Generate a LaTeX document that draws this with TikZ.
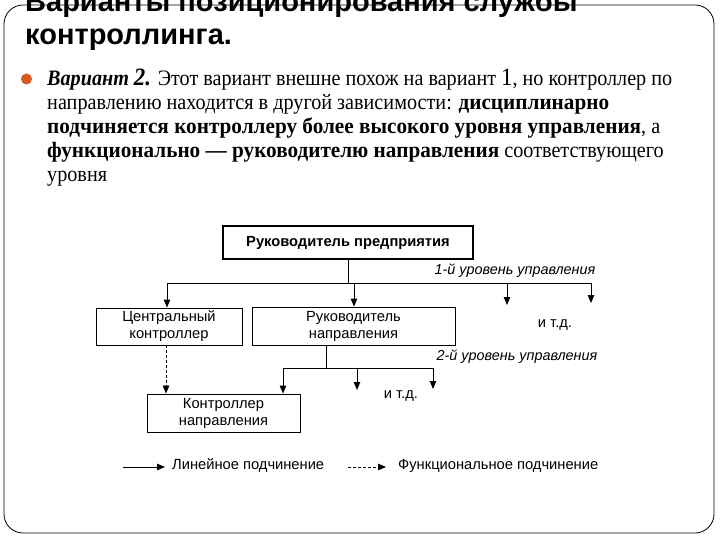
\documentclass[tikz,border=0pt]{standalone}
\usepackage{fontspec}
\usepackage{graphicx}
\setmainfont{Liberation Serif}
\newfontfamily\arialf{Liberation Sans}
\usetikzlibrary{arrows.meta}
\definecolor{bulletc}{RGB}{214,88,38}
\newcommand{\bodysq}[1]{\scalebox{0.918}[1]{#1}}
\newcommand{\bwide}[1]{\scalebox{1.05}[1]{\textbf{#1}}}
\begin{document}
\begin{tikzpicture}[x=1pt,y=-1pt,
  boxthin/.style={draw,line width=0.9pt,inner sep=0pt,font=\arialf\fontsize{14.7}{17}\selectfont,align=center},
  conn/.style={line width=0.9pt},
  arr/.style={line width=0.9pt,-{Triangle[length=8pt,width=6.5pt]}},
  darr/.style={line width=0.8pt,dash pattern=on 3pt off 2pt,-{Triangle[length=8pt,width=6.5pt]}},
  dlabel/.style={font=\arialf\fontsize{14.7}{17}\selectfont,inner sep=0pt},
  ilabel/.style={font=\arialf\itshape\fontsize{14.4}{17}\selectfont,inner sep=0pt},
  bodyline/.style={anchor=base west,inner sep=0pt,font=\fontsize{22}{24}\selectfont}]
\clip (0,0) rectangle (720,540);
\fill[white] (0,0) rectangle (720,540);
% frame
\draw[line width=0.8pt,rounded corners=19pt] (4,5) rectangle (714,533);
% title
\node[anchor=base west,inner sep=0pt,font=\arialf\bfseries\fontsize{29}{31}\selectfont] (t1) at (25,12) {Варианты позиционирования службы};
\node[anchor=base west,inner sep=0pt,font=\arialf\bfseries\fontsize{29}{31}\selectfont] (t2) at (25,45) {контроллинга.};
% bullet
\fill[bulletc] (26.5,79) circle (5.5);
% body
\node[bodyline] (b1) at (47,86) {\resizebox{625pt}{\height}{\textbf{\textit{Вариант {\fontsize{25}{24}\selectfont 2.}}} Этот вариант внешне похож на вариант {\fontsize{25}{24}\selectfont 1}, но контроллер по}};
\node[bodyline] (b2) at (47,110) {\bodysq{направлению находится в другой зависимости: \bwide{дисциплинарно}}};
\node[bodyline] (b3) at (47,134) {\bodysq{\bwide{подчиняется контроллеру более высокого уровня управления}, а}};
\node[bodyline] (b4) at (47,158) {\bodysq{\bwide{функционально — руководителю направления} соответствующего}};
\node[bodyline] (b5) at (47,182) {\bodysq{уровня}};
% diagram boxes
\node[draw,line width=1.7pt,minimum width=250pt,minimum height=33pt,inner sep=0pt,font=\arialf\bfseries\fontsize{14.7}{17}\selectfont] (top) at (348,242.5) {Руководитель предприятия};
\node[boxthin,minimum width=146pt,minimum height=37pt] (ck) at (169,326.5) {Центральный\\контроллер};
\node[boxthin,minimum width=203pt,minimum height=38pt] (rn) at (353.5,326) {Руководитель\\направления};
\node[boxthin,minimum width=153pt,minimum height=38pt] (kn) at (223.5,413) {Контроллер\\направления};
% level 1 connectors
\coordinate (j1) at (348,283);
\coordinate (h1l) at (167,283);
\coordinate (h1r) at (591,283);
\coordinate (a3) at (507,283);
\coordinate (a3e) at (507,305);
\coordinate (a4e) at (591,303);
\coordinate (a2) at (354,283);
\draw[conn] (top.south -| j1) -- (j1);
\draw[conn] (h1l) -- (h1r);
\draw[arr] (h1l) -- (h1l |- ck.north);
\draw[arr] (a2) -- (a2 |- rn.north);
\draw[arr] (a3) -- (a3e);
\draw[arr] (h1r) -- (a4e);
\node[ilabel] (l1) at (515,271) {1-й уровень управления};
\node[dlabel] (etc1) at (555,325) {и т.д.};
% level 2 connectors
\coordinate (j2) at (326,368);
\coordinate (h2l) at (283,368);
\coordinate (h2r) at (433,368);
\coordinate (b2s) at (357,368);
\draw[conn] (rn.south -| j2) -- (j2);
\draw[conn] (h2l) -- (h2r);
\draw[arr] (h2l) -- (h2l |- kn.north);
\draw[arr] (b2s) -- (357,390);
\draw[arr] (h2r) -- (433,389);
\node[ilabel] (l2) at (517,357) {2-й уровень управления};
\node[dlabel] (etc2) at (401,396) {и т.д.};
% functional (dashed)
\draw[darr] (ck.south -| 166,0) -- (kn.north -| 166,0);
% legend
\coordinate (ls1) at (123,467);
\coordinate (le1) at (165,467);
\coordinate (ls2) at (348,467);
\coordinate (le2) at (386,467);
\draw[arr] (ls1) -- (le1);
\node[dlabel,anchor=west] (lt1) at (172,466) {Линейное подчинение};
\draw[darr] (ls2) -- (le2);
\node[dlabel,anchor=west] (lt2) at (398,466) {Функциональное подчинение};
\end{tikzpicture}
\end{document}
